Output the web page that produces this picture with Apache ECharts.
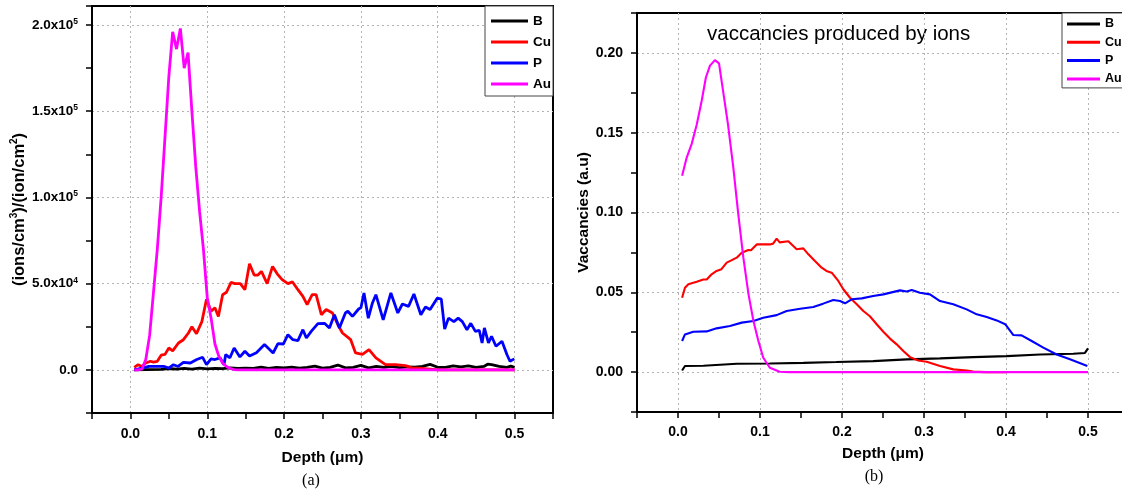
<!DOCTYPE html>
<html>
<head>
<meta charset="utf-8">
<title>ions and vacancies vs depth</title>
<script src="https://cdn.jsdelivr.net/npm/echarts@6.0.0/dist/echarts.min.js"></script>
<style>
  html, body { margin: 0; padding: 0; background: #fff; }
  #main { width: 1122px; height: 493px; }
</style>
</head>
<body>
<div id="main"></div>
<script type="text/javascript">
  // ---- (a) ion distribution, [depth um, (ions/cm3)/(ion/cm2)] ----
  var bIons = [[0.005,0],[0.02,200],[0.04,300],[0.05,800],[0.06,400],[0.07,900],[0.08,500],[0.09,1000],[0.1,600],
    [0.11,900],[0.12,700],[0.13,1200],[0.14,800],[0.15,1000],[0.16,900],[0.17,1600],[0.18,900],[0.19,1500],[0.2,1200],
    [0.21,1600],[0.22,1000],[0.23,1400],[0.24,2200],[0.25,1000],[0.26,1500],[0.27,2800],[0.28,1200],[0.29,1400],
    [0.3,2600],[0.31,1200],[0.32,2100],[0.33,1400],[0.34,2000],[0.35,1300],[0.36,1800],[0.37,1600],[0.38,2000],
    [0.39,3200],[0.4,1500],[0.41,1400],[0.42,2300],[0.43,1700],[0.44,2300],[0.45,1500],[0.46,2000],[0.465,3300],
    [0.47,3000],[0.48,2000],[0.49,1500],[0.495,2200],[0.5,1500]];
  var cuIons = [[0.005,1500],[0.01,3000],[0.015,2000],[0.02,4000],[0.026,5000],[0.03,4500],[0.035,5000],[0.04,8500],
    [0.045,9000],[0.05,12700],[0.055,11000],[0.0625,15600],[0.069,17500],[0.0755,21400],[0.08,25000],[0.086,21000],
    [0.093,28000],[0.099,41000],[0.105,34000],[0.11,36000],[0.1145,31000],[0.12,43600],[0.125,45000],[0.131,50700],
    [0.136,50000],[0.143,50000],[0.149,46500],[0.155,61500],[0.161,55000],[0.166,55000],[0.1705,57100],[0.178,50000],
    [0.185,60000],[0.191,55700],[0.1975,52300],[0.205,50000],[0.211,51000],[0.218,46500],[0.2245,42600],[0.23,37800],
    [0.2366,43600],[0.2417,43600],[0.2485,32000],[0.2548,35000],[0.263,33000],[0.27,26200],[0.276,21400],
    [0.2867,17500],[0.293,9800],[0.302,9000],[0.3105,11700],[0.3195,7000],[0.332,3000],[0.345,3000],[0.358,2500],
    [0.367,1000],[0.375,1000],[0.39,500],[0.4,0],[0.5,0]];
  var pIons = [[0.005,0],[0.015,1000],[0.024,2000],[0.033,2000],[0.044,2000],[0.05,1000],[0.056,3000],[0.062,2000],
    [0.069,4400],[0.078,4000],[0.0864,6000],[0.094,7300],[0.099,3000],[0.105,6400],[0.11,6000],[0.1166,7000],
    [0.1218,3000],[0.124,8900],[0.1295,7000],[0.135,12700],[0.1425,7500],[0.149,10800],[0.155,8000],[0.164,10000],
    [0.1745,14700],[0.1857,9800],[0.192,15200],[0.199,15000],[0.205,20400],[0.2115,17500],[0.218,17000],
    [0.2245,23300],[0.229,18500],[0.2353,22300],[0.244,26800],[0.2526,27000],[0.259,24300],[0.2655,32000],
    [0.272,24300],[0.2798,33000],[0.283,34000],[0.289,31000],[0.297,35300],[0.3,36000],[0.304,44600],[0.3096,30000],
    [0.315,38800],[0.3195,43600],[0.329,29000],[0.339,44600],[0.348,33000],[0.354,38200],[0.362,36800],[0.369,44000],
    [0.378,32000],[0.384,36500],[0.39,35000],[0.3995,41700],[0.4046,41000],[0.409,23700],[0.414,30000],[0.421,28000],
    [0.4266,30000],[0.432,28000],[0.438,23300],[0.443,27000],[0.449,22300],[0.454,23000],[0.4577,15600],
    [0.4607,24300],[0.466,15600],[0.47,19500],[0.4758,13700],[0.4836,16600],[0.49,8900],[0.494,5000],[0.4996,6400]];
  var auIons = [[0.005,0],[0.01,0],[0.015,500],[0.02,6000],[0.025,20000],[0.03,45000],[0.035,70000],[0.04,100000],
    [0.045,135000],[0.05,170000],[0.055,196000],[0.06,186000],[0.065,198000],[0.07,175000],[0.075,184000],
    [0.08,150000],[0.085,118000],[0.09,92000],[0.095,70000],[0.1,42000],[0.105,30000],[0.11,15000],[0.115,8000],
    [0.12,4000],[0.125,2000],[0.13,800],[0.135,200],[0.14,0],[0.5,0]];

  // ---- (b) vacancies produced by ions, [depth um, a.u.] ----
  var bVac = [[0.005,0.001],[0.0085,0.0038],[0.031,0.004],[0.0716,0.0052],[0.112,0.0054],[0.153,0.0058],
    [0.193,0.0063],[0.238,0.0069],[0.279,0.008],[0.3195,0.0086],[0.36,0.0094],[0.4008,0.01],[0.4415,0.011],
    [0.482,0.0115],[0.4963,0.012],[0.5,0.0149]];
  var cuVac = [[0.005,0.0466],[0.0085,0.0529],[0.0126,0.055],[0.0228,0.0566],[0.0309,0.058],[0.035,0.058],
    [0.041,0.0613],[0.047,0.0634],[0.053,0.0645],[0.0594,0.0686],[0.065,0.07],[0.0716,0.0717],[0.0777,0.0748],
    [0.0858,0.0765],[0.089,0.0763],[0.096,0.08],[0.1045,0.08],[0.112,0.08],[0.116,0.0805],[0.1203,0.0836],
    [0.124,0.0813],[0.1345,0.082],[0.1406,0.079],[0.1447,0.077],[0.1528,0.0775],[0.159,0.0738],[0.167,0.0696],
    [0.1752,0.0654],[0.181,0.0634],[0.1874,0.0623],[0.1955,0.0571],[0.2016,0.0519],[0.2098,0.0466],[0.218,0.0425],
    [0.226,0.0383],[0.234,0.035],[0.2423,0.03],[0.2504,0.0253],[0.2585,0.021],[0.2667,0.0174],[0.2748,0.0132],
    [0.283,0.0094],[0.293,0.0073],[0.3033,0.0065],[0.3195,0.0038],[0.3357,0.0017],[0.352,0.001],[0.36,0.0003],
    [0.375,0],[0.4,0]];
  var pVac = [[0.005,0.0195],[0.0085,0.0236],[0.0187,0.0253],[0.035,0.0255],[0.047,0.0274],[0.0634,0.0289],
    [0.0777,0.031],[0.092,0.032],[0.104,0.034],[0.1203,0.0357],[0.1325,0.0383],[0.149,0.0397],[0.165,0.0408],
    [0.177,0.0429],[0.1894,0.0452],[0.1976,0.0445],[0.2037,0.0431],[0.2118,0.0456],[0.224,0.0462],[0.238,0.0477],
    [0.2504,0.0487],[0.2707,0.0512],[0.279,0.0505],[0.285,0.0514],[0.295,0.0497],[0.3073,0.0487],[0.3195,0.0445],
    [0.3357,0.0425],[0.352,0.0393],[0.3643,0.0362],[0.3765,0.0345],[0.3887,0.0324],[0.399,0.03],[0.409,0.0232],
    [0.419,0.023],[0.4313,0.0195],[0.4455,0.0153],[0.4618,0.011],[0.478,0.008],[0.4992,0.0038]];
  var auVac = [[0.005,0.123],[0.0106,0.1344],[0.0167,0.143],[0.0228,0.155],[0.0289,0.17],[0.034,0.1846],
    [0.039,0.192],[0.045,0.1955],[0.05,0.1934],[0.055,0.176],[0.061,0.155],[0.0675,0.128],[0.0735,0.099],
    [0.0797,0.0717],[0.086,0.0487],[0.092,0.032],[0.098,0.0195],[0.104,0.009],[0.112,0.0027],[0.124,0.0002],
    [0.136,0],[0.5,0]];

  // ---- tick labels ----
  var depthTicks = [0, 0.1, 0.2, 0.3, 0.4, 0.5];
  var depthLabels = ['0.0', '0.1', '0.2', '0.3', '0.4', '0.5'];
  var ionTicks = [0, 50000, 100000, 150000, 200000];
  var ionLabels = ['{m|0.0}', '{m|5.0x10}{e|4}', '{m|1.0x10}{e|5}', '{m|1.5x10}{e|5}', '{m|2.0x10}{e|5}'];
  var vacTicks = [0, 0.05, 0.1, 0.15, 0.2];
  var vacLabels = ['0.00', '0.05', '0.10', '0.15', '0.20'];

  var names = ['B', 'Cu', 'P', 'Au'];
  var colors = ['#000000', '#ff0000', '#0000ff', '#ff00ff'];

  var FONT = '"Liberation Sans", Arial, sans-serif';
  var GRIDC = '#b4b4b4';

  function pickLabel(ticks, labels) {
    return function (v) {
      for (var i = 0; i < ticks.length; i++) {
        if (Math.abs(v - ticks[i]) < 1e-9 * Math.max(1, Math.abs(ticks[i]))) return labels[i];
      }
      return '';
    };
  }

  function xAxisFor(idx, margin) {
    return {
      type: 'value', gridIndex: idx, min: -0.05, max: 0.55, interval: 0.05,
      name: 'Depth (\u03bcm)', nameLocation: 'middle', nameGap: idx === 0 ? 37 : 34,
      nameTextStyle: { fontFamily: FONT, fontWeight: 'bold', fontSize: 15.5, color: '#000' },
      axisLine: { show: true, onZero: false, lineStyle: { color: '#000', width: 2 } },
      axisTick: { show: true, inside: false, length: 6, lineStyle: { color: '#000', width: 1.5 } },
      axisLabel: { margin: margin, fontFamily: FONT, fontWeight: 'bold', fontSize: 14, color: '#000',
        formatter: pickLabel(depthTicks, depthLabels) },
      splitLine: { show: true, lineStyle: { color: ['rgba(0,0,0,0)', GRIDC], type: [2, 3], width: 1 } }
    };
  }

  var seriesList = [];
  var ionData = [bIons, cuIons, pIons, auIons];
  var vacData = [bVac, cuVac, pVac, auVac];
  for (var i = 0; i < names.length; i++) {
    seriesList.push({
      name: names[i], type: 'line', xAxisIndex: 0, yAxisIndex: 0, data: ionData[i],
      showSymbol: false, symbol: 'none', smooth: false, animation: false,
      lineStyle: { color: colors[i], width: 2.8 }, itemStyle: { color: colors[i] }
    });
  }
  for (var j = 0; j < names.length; j++) {
    seriesList.push({
      name: names[j], type: 'line', xAxisIndex: 1, yAxisIndex: 1, data: vacData[j],
      showSymbol: false, symbol: 'none', smooth: false, animation: false,
      lineStyle: { color: colors[j], width: 2.1 }, itemStyle: { color: colors[j] }
    });
  }

  var chart = echarts.init(document.getElementById('main'), null, { renderer: 'canvas' });
  var option = {
    animation: false,
    backgroundColor: '#fff',
    color: colors,
    grid: [
      { left: 92, top: 6, width: 461, height: 407, outerBoundsMode: 'none', containLabel: false,
        show: true, borderColor: '#000', borderWidth: 2, backgroundColor: 'transparent' },
      { left: 637, top: 13, width: 492, height: 399, outerBoundsMode: 'none', containLabel: false,
        show: true, borderColor: '#000', borderWidth: 2, backgroundColor: 'transparent' }
    ],
    legend: [
      {
        orient: 'vertical', left: 485, top: 6, data: names,
        icon: 'rect', itemWidth: 37, itemHeight: 3, itemGap: 5,
        padding: [7, 2, 4, 6], borderColor: '#444', borderWidth: 1, backgroundColor: '#fff',
        textStyle: { fontFamily: FONT, fontWeight: 'bold', fontSize: 13.5, color: '#000', lineHeight: 16 }
      },
      {
        orient: 'vertical', left: 1062, top: 13, data: names,
        icon: 'rect', itemWidth: 33, itemHeight: 3, itemGap: 4.3,
        padding: [4, 30, 2, 5], borderColor: '#444', borderWidth: 1, backgroundColor: '#fff',
        textStyle: { fontFamily: FONT, fontWeight: 'bold', fontSize: 12.5, color: '#000', lineHeight: 14 }
      }
    ],
    xAxis: [ xAxisFor(0, 14), xAxisFor(1, 13) ],
    yAxis: [
      {
        type: 'value', gridIndex: 0, min: -25000, max: 211000, interval: 25000,
        name: '{n|(ions/cm}{s|3}{n|)/(ion/cm}{s|2}{n|)}', nameLocation: 'middle', nameGap: 58,
        nameTextStyle: { color: '#000', rich: {
          n: { fontFamily: FONT, fontWeight: 'bold', fontSize: 16.5, lineHeight: 20, color: '#000' },
          s: { fontFamily: FONT, fontWeight: 'bold', fontSize: 10, lineHeight: 12, verticalAlign: 'top', color: '#000' }
        } },
        axisLine: { show: true, onZero: false, lineStyle: { color: '#000', width: 2 } },
        axisTick: { show: true, inside: false, length: 6, lineStyle: { color: '#000', width: 1.5 } },
        axisLabel: { margin: 14, color: '#000', formatter: pickLabel(ionTicks, ionLabels), rich: {
          m: { fontFamily: FONT, fontWeight: 'bold', fontSize: 13.5, lineHeight: 16, color: '#000' },
          e: { fontFamily: FONT, fontWeight: 'bold', fontSize: 8.5, lineHeight: 9, verticalAlign: 'top', color: '#000' }
        } },
        splitLine: { show: true, lineStyle: { color: ['rgba(0,0,0,0)', GRIDC], type: [2, 3], width: 1 } }
      },
      {
        type: 'value', gridIndex: 1, min: -0.025, max: 0.225, interval: 0.025,
        name: 'Vaccancies (a.u)', nameLocation: 'middle', nameGap: 40,
        nameTextStyle: { fontFamily: FONT, fontWeight: 'bold', fontSize: 15.5, color: '#000' },
        axisLine: { show: true, onZero: false, lineStyle: { color: '#000', width: 2 } },
        axisTick: { show: true, inside: false, length: 6, lineStyle: { color: '#000', width: 1.5 } },
        axisLabel: { margin: 14, fontFamily: FONT, fontWeight: 'bold', fontSize: 14, color: '#000',
          formatter: pickLabel(vacTicks, vacLabels) },
        splitLine: { show: true, lineStyle: { color: ['rgba(0,0,0,0)', GRIDC], type: [2, 3], width: 1 } }
      }
    ],
    graphic: [
      { type: 'text', left: 707, top: 24, silent: true,
        style: { text: 'vaccancies produced by ions', font: '20.5px ' + FONT, fill: '#000' } },
      { type: 'text', x: 311, y: 481, silent: true,
        style: { text: '(a)', font: '16px "Liberation Serif", "Times New Roman", serif', fill: '#000',
          align: 'center', verticalAlign: 'middle' } },
      { type: 'text', x: 874, y: 477, silent: true,
        style: { text: '(b)', font: '16px "Liberation Serif", "Times New Roman", serif', fill: '#000',
          align: 'center', verticalAlign: 'middle' } }
    ],
    series: seriesList
  };
  chart.setOption(option);
</script>
</body>
</html>
